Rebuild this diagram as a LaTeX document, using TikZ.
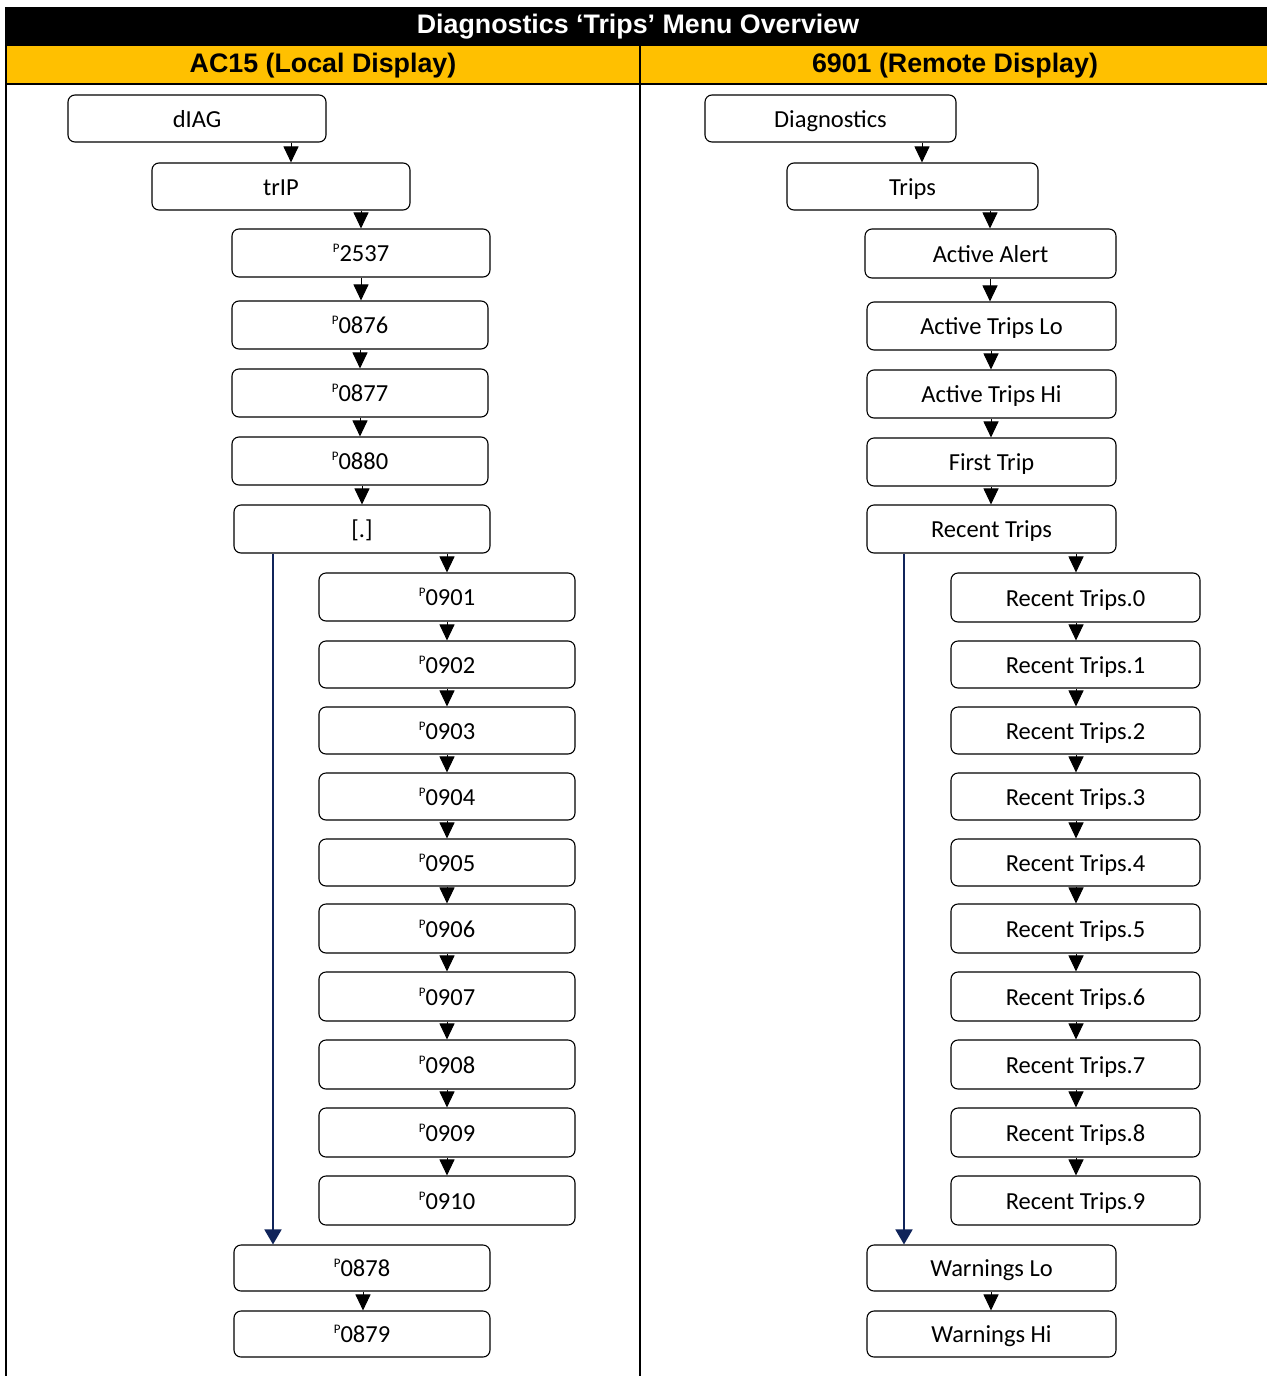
\documentclass[tikz,border=0pt]{standalone}
\usepackage{fontspec}
\setmainfont{Carlito}
\newfontfamily\hdrfont{Liberation Sans}
\usetikzlibrary{arrows.meta}
\definecolor{hdryellow}{RGB}{255,192,0}
\definecolor{navy}{RGB}{16,36,90}
\newcommand\parP{\raisebox{9pt}{\fontsize{13}{13}\selectfont P}}
\newcommand\link[3]{\draw[arr] (#1.south -| #3,0) -- (#2.north -| #3,0);}
\tikzset{
  box/.style={draw, rounded corners=7pt, line width=1.1pt, inner sep=0pt,
    font=\fontsize{24.5}{28}\selectfont, text height=21.5pt, text depth=4pt,
    minimum width=256pt, minimum height=48pt},
  wbox/.style={box, minimum width=249pt},
  arr/.style={line width=1pt, -{Triangle[width=15pt,length=16pt]}},
  longarr/.style={navy, line width=1.8pt, -{Triangle[width=17pt,length=15pt]}},
  hdr/.style={font=\hdrfont\bfseries\fontsize{26.8}{30}\selectfont, inner sep=0pt}
}
\begin{document}
\begin{tikzpicture}[x=1pt,y=-1pt]
\useasboundingbox (0,0) rectangle (1267,1376);
% header
\fill[black] (5,7) rectangle (1267,46);
\fill[hdryellow] (5,46) rectangle (1267,84);
\draw[line width=2pt] (5,84) -- (1267,84);
\draw[line width=2pt] (6,7) -- (6,1376);
\draw[line width=2pt] (640,46) -- (640,1376);
\node[hdr, text=white] (title) at (638,27) {Diagnostics ‘Trips’ Menu Overview};
\node[hdr] (hl) at (323,65.5) {AC15 (Local Display)};
\node[hdr] (hr) at (955,65.5) {6901 (Remote Display)};
% left column
\node[box, minimum width=258pt, minimum height=47pt] (dIAG) at (197,118.5) {dIAG};
\node[box, minimum width=258pt, minimum height=47pt] (trIP) at (281,186.5) {trIP};
\node[box, minimum width=258pt] (p2537) at (361,253) {\parP2537};
\node[box] (p0876) at (360,325) {\parP0876};
\node[box] (p0877) at (360,393) {\parP0877};
\node[box] (p0880) at (360,461) {\parP0880};
\node[box] (dot) at (362,529) {[.]};
\node[box] (p0901) at (447,597) {\parP0901};
\node[box, minimum height=47pt] (p0902) at (447,664.5) {\parP0902};
\node[box, minimum height=47pt] (p0903) at (447,730.5) {\parP0903};
\node[box, minimum height=47pt] (p0904) at (447,796.5) {\parP0904};
\node[box, minimum height=47pt] (p0905) at (447,862.5) {\parP0905};
\node[box, minimum height=49pt] (p0906) at (447,928.5) {\parP0906};
\node[box, minimum height=49pt] (p0907) at (447,996.5) {\parP0907};
\node[box, minimum height=49pt] (p0908) at (447,1064.5) {\parP0908};
\node[box, minimum height=49pt] (p0909) at (447,1132.5) {\parP0909};
\node[box, minimum height=49pt] (p0910) at (447,1200.5) {\parP0910};
\node[box, minimum height=46pt] (p0878) at (362,1268) {\parP0878};
\node[box, minimum height=46pt] (p0879) at (362,1334) {\parP0879};
\link{dIAG}{trIP}{291}
\link{trIP}{p2537}{361}
\link{p2537}{p0876}{361}
\link{p0876}{p0877}{360}
\link{p0877}{p0880}{360}
\link{p0880}{dot}{362}
\link{dot}{p0901}{447}
\link{p0901}{p0902}{447}
\link{p0902}{p0903}{447}
\link{p0903}{p0904}{447}
\link{p0904}{p0905}{447}
\link{p0905}{p0906}{447}
\link{p0906}{p0907}{447}
\link{p0907}{p0908}{447}
\link{p0908}{p0909}{447}
\link{p0909}{p0910}{447}
\link{p0878}{p0879}{363}
\draw[longarr] (dot.south -| 273,0) -- (p0878.north -| 273,0);
% right column
\node[box, minimum width=251pt, minimum height=47pt] (diag) at (830.5,118.5) {Diagnostics};
\node[box, minimum width=251pt, minimum height=47pt] (trips) at (912.5,186.5) {Trips};
\node[box, minimum width=251pt, minimum height=49pt] (aa) at (990.5,253.5) {Active Alert};
\node[wbox] (atl) at (991.5,326) {Active Trips Lo};
\node[wbox] (ath) at (991.5,394) {Active Trips Hi};
\node[wbox] (ft) at (991.5,462) {First Trip};
\node[wbox] (rt) at (991.5,529) {Recent Trips};
\node[wbox, minimum height=49pt] (r0) at (1075.5,597.5) {Recent Trips.0};
\node[wbox, minimum height=47pt] (r1) at (1075.5,664.5) {Recent Trips.1};
\node[wbox, minimum height=47pt] (r2) at (1075.5,730.5) {Recent Trips.2};
\node[wbox, minimum height=47pt] (r3) at (1075.5,796.5) {Recent Trips.3};
\node[wbox, minimum height=47pt] (r4) at (1075.5,862.5) {Recent Trips.4};
\node[wbox, minimum height=49pt] (r5) at (1075.5,928.5) {Recent Trips.5};
\node[wbox, minimum height=49pt] (r6) at (1075.5,996.5) {Recent Trips.6};
\node[wbox, minimum height=49pt] (r7) at (1075.5,1064.5) {Recent Trips.7};
\node[wbox, minimum height=49pt] (r8) at (1075.5,1132.5) {Recent Trips.8};
\node[wbox, minimum height=49pt] (r9) at (1075.5,1200.5) {Recent Trips.9};
\node[wbox, minimum height=46pt] (wlo) at (991.5,1268) {Warnings Lo};
\node[wbox, minimum height=46pt] (whi) at (991.5,1334) {Warnings Hi};
\link{diag}{trips}{922}
\link{trips}{aa}{990}
\link{aa}{atl}{990}
\link{atl}{ath}{991}
\link{ath}{ft}{991}
\link{ft}{rt}{991}
\link{rt}{r0}{1076}
\link{r0}{r1}{1076}
\link{r1}{r2}{1076}
\link{r2}{r3}{1076}
\link{r3}{r4}{1076}
\link{r4}{r5}{1076}
\link{r5}{r6}{1076}
\link{r6}{r7}{1076}
\link{r7}{r8}{1076}
\link{r8}{r9}{1076}
\link{wlo}{whi}{991}
\draw[longarr] (rt.south -| 904,0) -- (wlo.north -| 904,0);
\end{tikzpicture}
\end{document}
